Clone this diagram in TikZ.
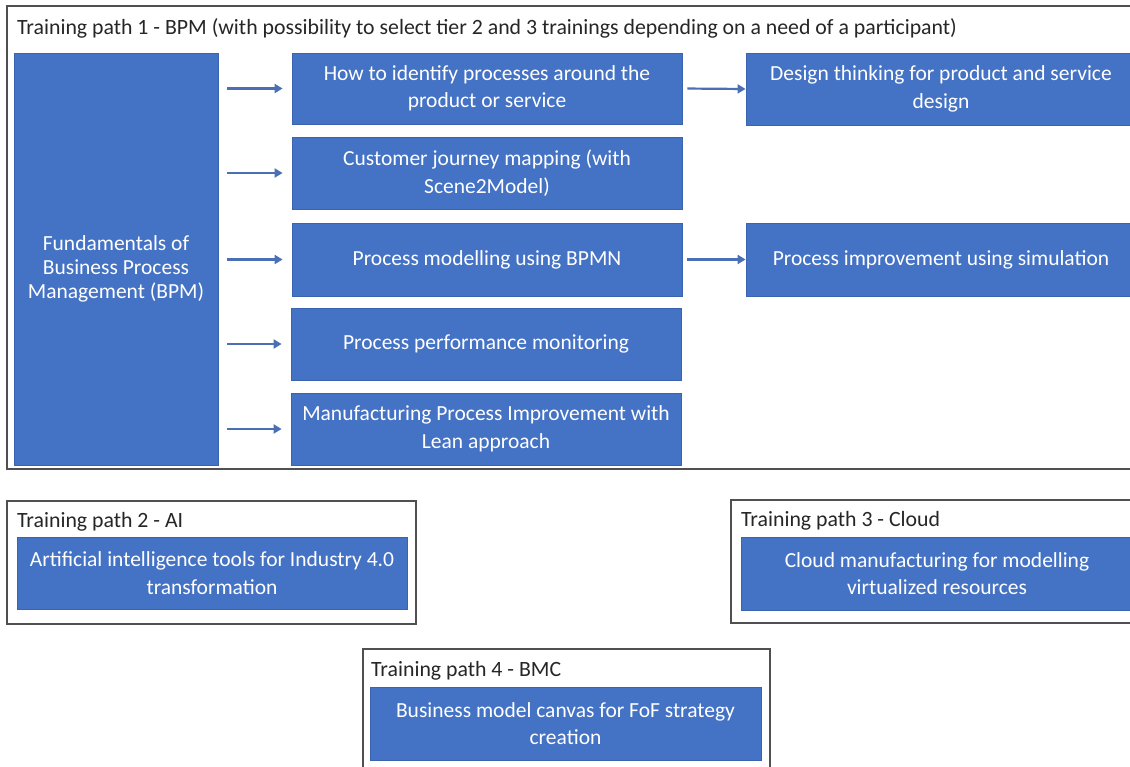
\documentclass[tikz,border=0pt]{standalone}
\usepackage{fontspec}
\setmainfont{Carlito}
\usetikzlibrary{arrows.meta}
\definecolor{boxblue}{HTML}{4472C4}
\definecolor{boxedge}{HTML}{3A64B0}
\definecolor{framegray}{HTML}{505050}
\definecolor{titlegray}{HTML}{262626}
\definecolor{arrowblue}{HTML}{4A6FB5}
\tikzset{
  bluebox/.style={draw=boxedge, line width=0.8pt, fill=boxblue, text=white,
    align=center, inner sep=0pt, font=\fontsize{21.5}{27.5}\selectfont},
  boxtext/.style={text=white, align=center, inner sep=0pt,
    font=\fontsize{21.5}{24}\selectfont},
  pathframe/.style={draw=framegray, line width=1.6pt, fill=white, inner sep=0pt},
  pathtitle/.style={anchor=west, inner sep=0pt, text=titlegray,
    font=\fontsize{21.8}{24}\selectfont},
  link/.style={draw=arrowblue, line width=2.2pt, -{Triangle[length=8pt,width=9pt]}}
}
\begin{document}
\begin{tikzpicture}[x=1pt,y=-1pt]
\useasboundingbox (0,0) rectangle (1130,767);
\fill[white] (0,0) rectangle (1130,767);
\clip (0,0) rectangle (1130,767);

% Frames
\node[pathframe, minimum width=1160pt, minimum height=463pt] (frameA) at (587,237.5) {};
\node[pathframe, minimum width=409pt, minimum height=123pt] (frameB) at (211.5,562.5) {};
\node[pathframe, minimum width=430pt, minimum height=123pt] (frameC) at (946,561.5) {};
\node[pathframe, minimum width=407pt, minimum height=160pt] (frameD) at (566.5,729) {};

% Titles
\node[pathtitle] (tA) at (17,28) {Training path 1 - BPM (with possibility to select tier 2 and 3 trainings depending on a need of a participant)};
\node[pathtitle] (tB) at (17,522) {Training path 2 - AI};
\node[pathtitle] (tC) at (741,521) {Training path 3 - Cloud};
\node[pathtitle] (tD) at (371,671) {Training path 4 - BMC};

% Path 1 boxes
\node[bluebox, minimum width=204pt, minimum height=412pt] (fund) at (116,259) {};
\node[boxtext] (fundtext) at ([yshift=-10pt]fund.center) {Fundamentals of\\Business Process\\Management (BPM)};

\node[bluebox, minimum width=390pt, minimum height=71pt] (m1) at (487,88.5) {How to identify processes around the\\product or service};
\node[bluebox, minimum width=390pt, minimum height=72pt] (m2) at (487,173) {Customer journey mapping (with\\Scene2Model)};
\node[bluebox, minimum width=390pt, minimum height=73pt] (m3) at (487,259.5) {Process modelling using BPMN};
\node[bluebox, minimum width=390pt, minimum height=72pt] (m4) at (486,344) {Process performance monitoring};
\node[bluebox, minimum width=390pt, minimum height=72pt] (m5) at (486,429) {Manufacturing Process Improvement with\\Lean approach};

\node[bluebox, minimum width=390pt, minimum height=72pt] (r1) at (941,89) {Design thinking for product and service\\design};
\node[bluebox, minimum width=390pt, minimum height=73pt] (r2) at (941,259.5) {Process improvement using simulation};

% Other paths
\node[bluebox, minimum width=390pt, minimum height=72pt] (ai) at (212,573) {Artificial intelligence tools for Industry 4.0\\transformation};
\node[bluebox, minimum width=392pt, minimum height=73pt] (cloud) at (937,573.5) {Cloud manufacturing for modelling\\virtualized resources};
\node[bluebox, minimum width=391pt, minimum height=73pt] (bmc) at (565.5,723.5) {Business model canvas for FoF strategy\\creation};

% Arrows
\foreach \m in {m1,m2,m3,m4,m5}{
  \draw[link, shorten <=9pt, shorten >=9pt] (fund.east |- \m.west) -- (\m.west);
}
\draw[link, shorten <=5pt] (m1.east) -- (r1.west);
\draw[link, shorten <=5pt] (m3.east) -- (r2.west);
\end{tikzpicture}
\end{document}
